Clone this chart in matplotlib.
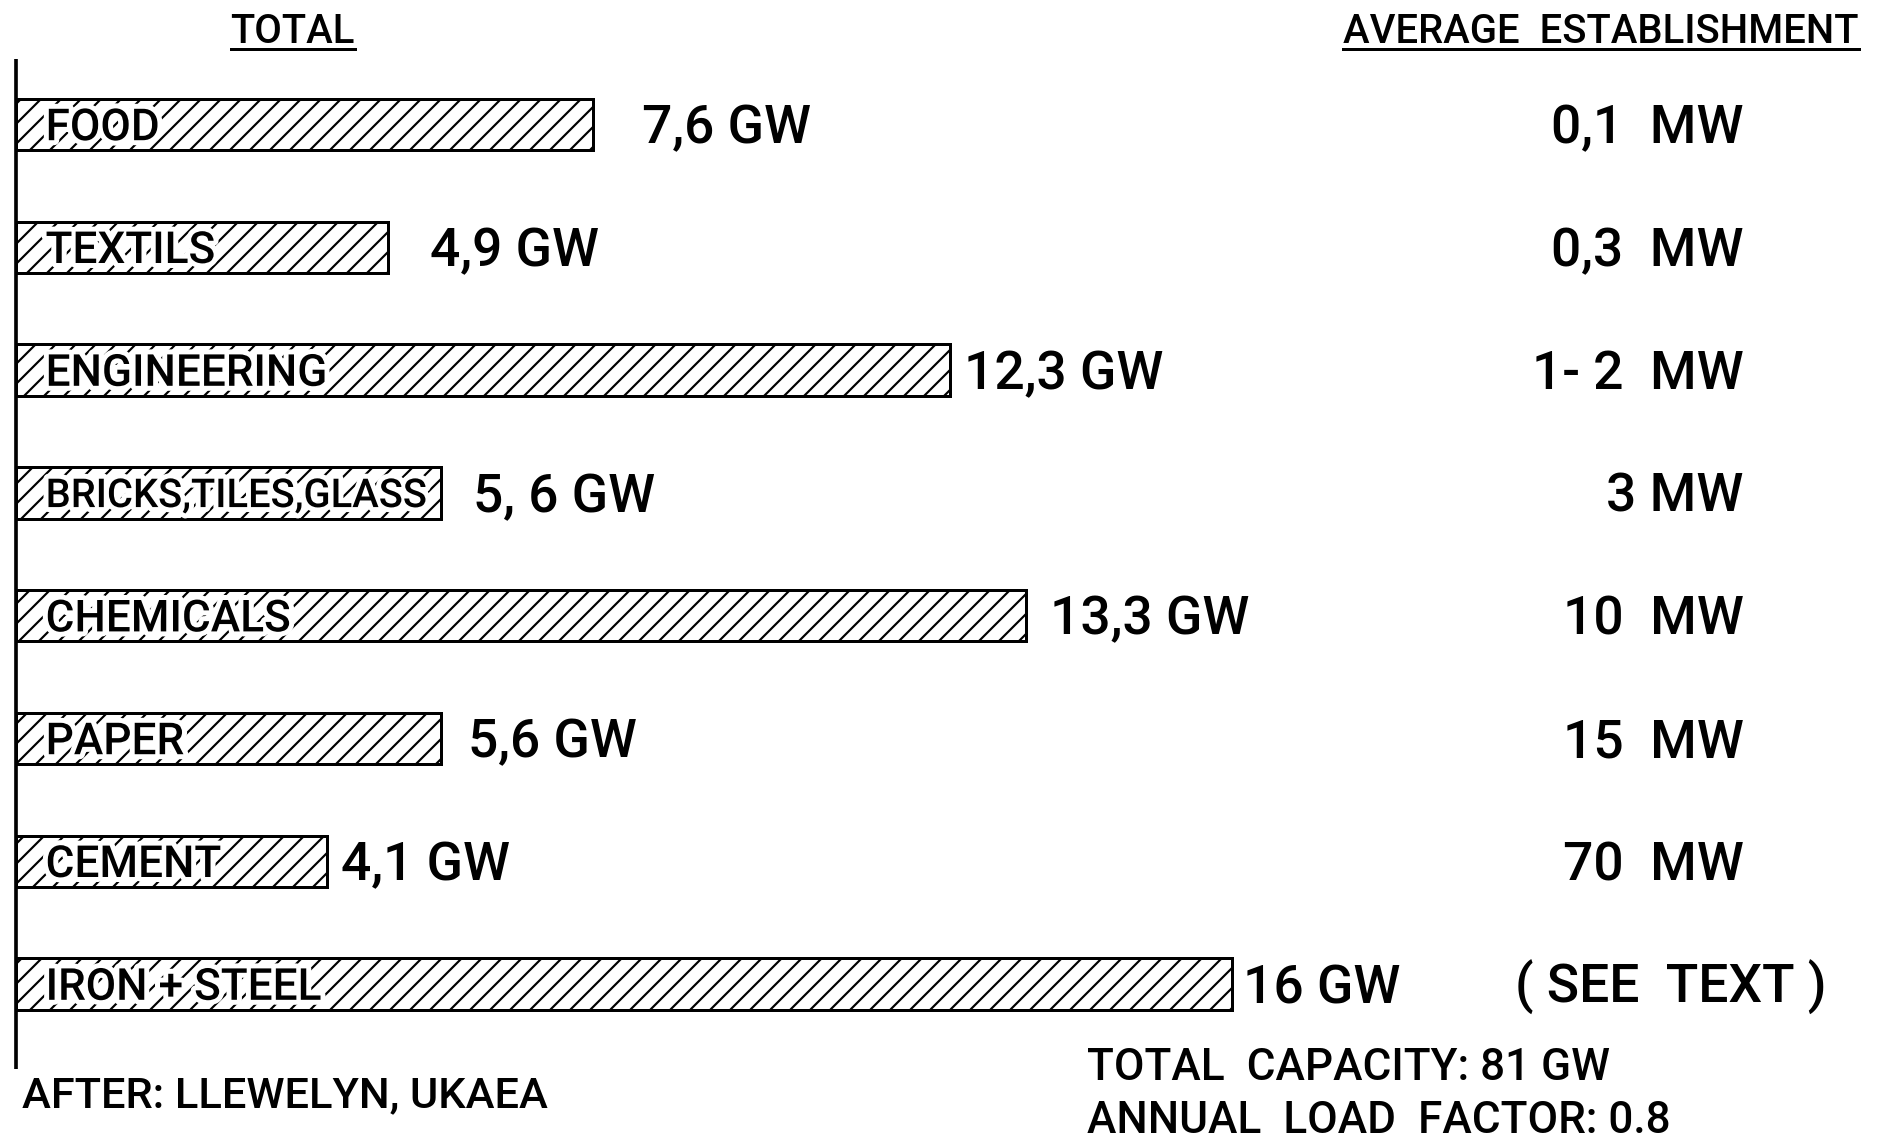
import matplotlib
matplotlib.use("Agg")
import matplotlib.pyplot as plt
import matplotlib.patheffects as pe
from matplotlib.lines import Line2D

plt.rcParams["font.family"] = ["Roboto", "DejaVu Sans"]
plt.rcParams["font.weight"] = "medium"
plt.rcParams["hatch.linewidth"] = 1.3
plt.rcParams["hatch.color"] = "black"

# ------------------------------------------------------------
# data (total installed capacity per industry, GW)
# ------------------------------------------------------------
industries = ["FOOD", "TEXTILS", "ENGINEERING", "BRICKS,TILES,GLASS",
              "CHEMICALS", "PAPER", "CEMENT", "IRON + STEEL"]
total_gw = [7.6, 4.9, 12.3, 5.6, 13.3, 5.6, 4.1, 16]
total_labels = ["7,6 GW", "4,9 GW", "12,3 GW", "5, 6 GW",
                "13,3 GW", "5,6 GW", "4,1 GW", "16 GW"]
avg_establishment = ["0,1  MW", "0,3  MW", "1- 2  MW", "3 MW",
                     "10  MW", "15  MW", "70  MW", "( SEE  TEXT )"]

# gap between bar end and its value label (points)
label_gap = [29, 25, 8, 19, 14, 16, 8, 7]

DPI = 120
W, H = 1877, 1139

fig = plt.figure(figsize=(W / DPI, H / DPI), dpi=DPI)
ax = fig.add_axes([0, 0, 1, 1])
ax.axis("off")

# scale: 76 px per GW, axis at x=15.6 px; bar pitch 122.8 px, first bar at 124.5 px
px_per_gw = 76.0
x0 = 15.6
pitch = 122.8
y0 = 124.5
ax.set_xlim(-x0 / px_per_gw, (W - x0) / px_per_gw)
ax.set_ylim((H - y0) / pitch, -y0 / pitch)

ypos = list(range(len(industries)))
ax.barh(ypos, total_gw, height=0.42, left=0, color="white",
        edgecolor="black", linewidth=1.8, hatch="//", zorder=1)

ax.vlines(0, -0.53, len(industries) - 1 + 0.69, color="black",
          linewidth=2.2, zorder=2)

FS_VAL = 32
FS_CAT = 26.5
CAP = 0.711

cat_texts = []
tr = ax.get_yaxis_transform()
for i, (name, v, lab, gap, avg) in enumerate(
        zip(industries, total_gw, total_labels, label_gap, avg_establishment)):
    # category name inside bar
    t = ax.annotate(name, (0, i), xytext=(18, -CAP * FS_CAT / 2),
                    textcoords="offset points", ha="left", va="baseline",
                    fontsize=FS_CAT, zorder=3,
                    path_effects=[pe.withStroke(linewidth=6, foreground="white")])
    cat_texts.append((t, v))
    # total value to the right of the bar
    ax.annotate(lab, (v, i), xytext=(gap, -CAP * FS_VAL / 2),
                textcoords="offset points", ha="left", va="baseline",
                fontsize=FS_VAL, zorder=3)
    # average establishment column
    if avg.startswith("("):
        ax.annotate(avg, (0.807, i), xycoords=tr, xytext=(0, -CAP * FS_VAL / 2),
                    textcoords="offset points", ha="left", va="baseline",
                    fontsize=FS_VAL)
    else:
        ax.annotate(avg, (0.929, i), xycoords=tr, xytext=(0, -CAP * FS_VAL / 2),
                    textcoords="offset points", ha="right", va="baseline",
                    fontsize=FS_VAL)

# headers (underlined)
h1 = fig.text(0.156, 0.962, "TOTAL", ha="center", va="baseline", fontsize=24)
h2 = fig.text(0.853, 0.962, "AVERAGE  ESTABLISHMENT", ha="center",
              va="baseline", fontsize=24)

# footer notes
fig.text(0.0115, 0.028, "AFTER: LLEWELYN, UKAEA", ha="left", va="baseline",
         fontsize=26)
fig.text(0.579, 0.052, "TOTAL  CAPACITY: 81 GW", ha="left", va="baseline",
         fontsize=26.5)
fig.text(0.579, 0.005, "ANNUAL  LOAD  FACTOR: 0.8", ha="left", va="baseline",
         fontsize=26.5)

fig.canvas.draw()
r = fig.canvas.get_renderer()

# shrink a category name if it would run past the end of its bar
for t, v in cat_texts:
    bb = t.get_window_extent(r)
    bar_end = ax.transData.transform((v, 0))[0] - 14
    if bb.x1 > bar_end:
        scale = (bar_end - bb.x0) / bb.width
        fs = FS_CAT * scale
        t.set_fontsize(fs)
        t.xyann = (18, -CAP * fs / 2)

for t in (h1, h2):
    bb = t.get_window_extent(r)
    yl = (H - 49) / H
    fig.add_artist(Line2D([bb.x0 / W, bb.x1 / W], [yl, yl],
                          transform=fig.transFigure, color="black",
                          linewidth=1.8))

fig.savefig("out.png", dpi=DPI, facecolor="white")
